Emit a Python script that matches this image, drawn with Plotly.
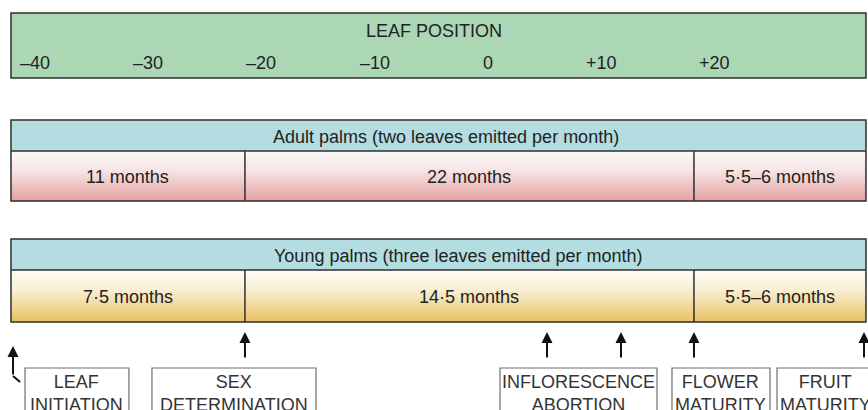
import plotly.graph_objects as go

# ---------------- data ----------------
leaf_ticks = [-40, -30, -20, -10, 0, 10, 20]
leaf_tick_labels = ["–40", "–30", "–20", "–10", "0", "+10", "+20"]
axis_title = "LEAF POSITION"

# leaf positions of the stage boundaries (initiation | sex determination | flower maturity | fruit maturity)
stage_bounds = [-42.1, -21.45, 18.18, 33.36]

adult_title = "Adult palms (two leaves emitted per month)"
adult_durations = ["11 months", "22 months", "5·5–6 months"]

young_title = "Young palms (three leaves emitted per month)"
young_durations = ["7·5 months", "14·5 months", "5·5–6 months"]

event_labels = ["LEAF<br>INITIATION", "SEX<br>DETERMINATION",
                "INFLORESCENCE<br>ABORTION", "FLOWER<br>MATURITY", "FRUIT<br>MATURITY"]
event_arrows = [[-41.92], [-21.45], [5.21, 11.74], [18.18], [33.19]]

# ---------------- layout constants ----------------
FONT = "Liberation Sans, Arial, sans-serif"
TXT = "#222222"
BORDER = "#2e2e2e"
X_RANGE = [-43.07, 33.54]
Y_RANGE = [410, 0]
GREEN = (13, 78)
ADULT = (120, 151, 201)
YOUNG = (239, 270, 322)
event_boxes = [(-40.86, -31.69), (-29.66, -15.18), (1.06, 14.92), (16.24, 24.89), (25.51, 33.98)]

fig = go.Figure()
shapes = []
ann = []


def grad_rect(x0, x1, y0, y1, scale):
    fig.add_trace(go.Scatter(
        x=[x0, x1, x1, x0, x0], y=[y0, y0, y1, y1, y0], mode="lines",
        line=dict(width=0), fill="toself",
        fillgradient=dict(type="vertical", colorscale=scale, start=y0, stop=y1),
        hoverinfo="skip", showlegend=False))


def rect(x0, x1, y0, y1, fill="rgba(0,0,0,0)", color=BORDER, width=1.5):
    shapes.append(dict(type="rect", xref="x", yref="y", x0=x0, x1=x1, y0=y0, y1=y1,
                       fillcolor=fill, line=dict(color=color, width=width), layer="above"))


def vline(x, y0, y1):
    shapes.append(dict(type="line", xref="x", yref="y", x0=x, x1=x, y0=y0, y1=y1,
                       line=dict(color=BORDER, width=1.5), layer="above"))


def text(x, y, s, color=TXT, size=18):
    ann.append(dict(x=x, y=y, xref="x", yref="y", text=s, showarrow=False,
                    font=dict(family=FONT, size=size, color=color),
                    xanchor="center", yanchor="middle"))


L, R = stage_bounds[0], stage_bounds[-1]

# leaf position bar
shapes.append(dict(type="rect", xref="x", yref="y", x0=L, x1=R, y0=GREEN[0], y1=GREEN[1],
                   fillcolor="#acd7b4", line=dict(color=BORDER, width=1.5), layer="below"))
text(-4.8, 31, axis_title)
for t, lab in zip(leaf_ticks, leaf_tick_labels):
    text(t, 63, lab)

# stage boxes
for (top, mid, bot), title, durs, scale in [
    (ADULT, adult_title, adult_durations,
     [[0, "#fbf8f8"], [0.4, "#f6e4e4"], [1, "#e6a0a0"]]),
    (YOUNG, young_title, young_durations,
     [[0, "#fefcf6"], [0.4, "#f8eed2"], [1, "#e8c060"]]),
]:
    shapes.append(dict(type="rect", xref="x", yref="y", x0=L, x1=R, y0=top, y1=mid,
                       fillcolor="#b3dde1", line=dict(width=0), layer="below"))
    grad_rect(L, R, mid, bot, scale)
    rect(L, R, top, bot)
    shapes.append(dict(type="line", xref="x", yref="y", x0=L, x1=R, y0=mid, y1=mid,
                       line=dict(color=BORDER, width=1.5), layer="above"))
    for b in stage_bounds[1:-1]:
        vline(b, mid, bot)
    text(-3.7 if top == ADULT[0] else -2.6, (top + mid) / 2 + 1, title)
    for i, d in enumerate(durs):
        text((stage_bounds[i] + stage_bounds[i + 1]) / 2, (mid + bot) / 2 + 0.5, d)

# arrows
for i, xs in enumerate(event_arrows):
    for xa in xs:
        if i == 0:
            tip, tail = 346, 376
            shapes.append(dict(type="line", xref="x", yref="y", x0=xa, x1=xa + 0.62,
                               y0=tail, y1=382, line=dict(color="#111", width=2)))
        else:
            tip, tail = 332, 359
        ann.append(dict(x=xa, y=tip, ax=xa, ay=tail, xref="x", yref="y", axref="x", ayref="y",
                        text="", showarrow=True, arrowhead=2, arrowsize=1.1, arrowwidth=2,
                        arrowcolor="#111", standoff=0, startstandoff=0))

# event boxes
for (x0, x1), lab in zip(event_boxes, event_labels):
    rect(x0, x1, 368, 440, fill="white", color="#6e6e6e", width=1.2)
    text((x0 + x1) / 2, 393.5, lab, color="#333333")

fig.update_layout(
    width=868, height=410, margin=dict(l=0, r=0, t=0, b=0),
    paper_bgcolor="white", plot_bgcolor="white",
    xaxis=dict(range=X_RANGE, visible=False, fixedrange=True),
    yaxis=dict(range=Y_RANGE, visible=False, fixedrange=True),
    shapes=shapes, annotations=ann, showlegend=False,
)
fig.write_html(
    "out.html",
    config={"displayModeBar": False, "staticPlot": True},
    post_script="document.body.style.margin='0';document.body.style.overflow='hidden';",
)
